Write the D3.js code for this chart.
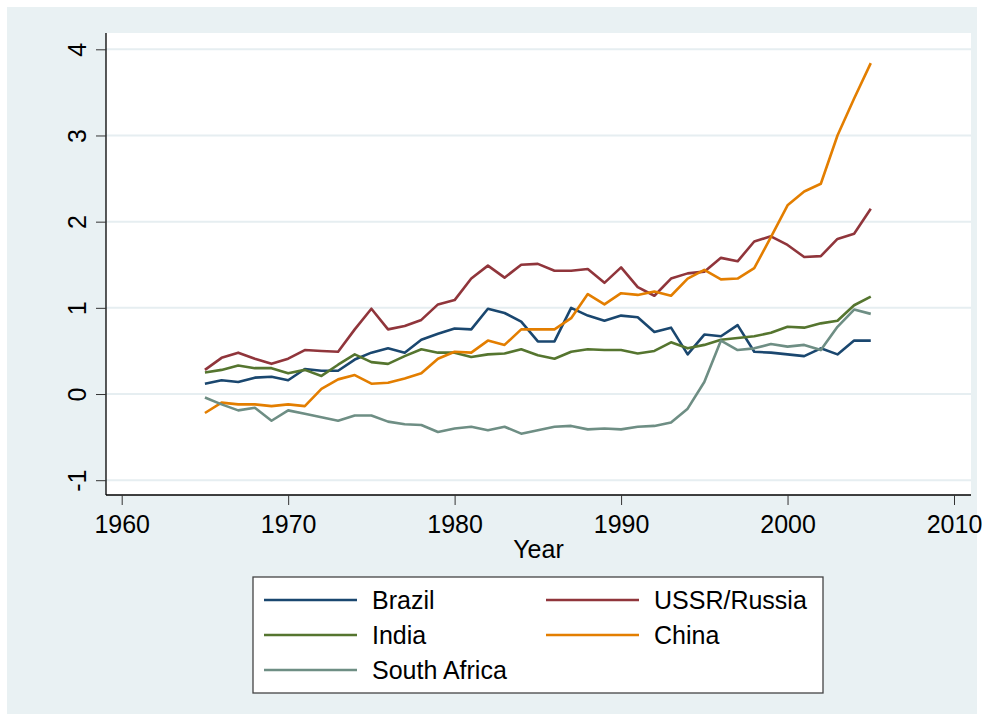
<!DOCTYPE html>
<html>
<head>
<meta charset="utf-8">
<script src="https://cdn.jsdelivr.net/npm/d3@7"></script>
<style>
  body { margin: 0; background: #ffffff; }
  text { font-family: Arial, "Liberation Sans", sans-serif; fill: #000; }
</style>
</head>
<body>
<div id="chart"></div>
<script>

// years on the x axis
var years = d3.range(1965, 2006);

// series values, one per year 1965..2005
var brazil = [0.12, 0.16, 0.14, 0.19, 0.20, 0.16, 0.29, 0.27, 0.27, 0.40,
              0.48, 0.53, 0.48, 0.63, 0.70, 0.76, 0.75, 0.99, 0.94, 0.84,
              0.61, 0.61, 1.00, 0.91, 0.85, 0.91, 0.89, 0.72, 0.77, 0.46,
              0.69, 0.67, 0.80, 0.49, 0.48, 0.46, 0.44, 0.53, 0.46, 0.62,
              0.62];

var russia = [0.28, 0.42, 0.48, 0.41, 0.35, 0.41, 0.51, 0.50, 0.49, 0.75,
              0.99, 0.75, 0.79, 0.86, 1.04, 1.09, 1.34, 1.49, 1.35, 1.50,
              1.51, 1.43, 1.43, 1.45, 1.29, 1.47, 1.24, 1.14, 1.34, 1.40,
              1.42, 1.58, 1.54, 1.77, 1.83, 1.73, 1.59, 1.60, 1.80, 1.86,
              2.15];

var india = [0.25, 0.28, 0.33, 0.30, 0.30, 0.24, 0.28, 0.21, 0.34, 0.46,
             0.37, 0.35, 0.44, 0.52, 0.48, 0.48, 0.43, 0.46, 0.47, 0.52,
             0.45, 0.41, 0.49, 0.52, 0.51, 0.51, 0.47, 0.50, 0.60, 0.53,
             0.57, 0.63, 0.65, 0.67, 0.71, 0.78, 0.77, 0.82, 0.85, 1.03,
             1.13];

var china = [-0.22, -0.10, -0.12, -0.12, -0.14, -0.12, -0.14, 0.06, 0.17, 0.22,
             0.12, 0.13, 0.18, 0.24, 0.41, 0.49, 0.48, 0.62, 0.57, 0.75,
             0.75, 0.75, 0.88, 1.16, 1.04, 1.17, 1.15, 1.19, 1.14, 1.34,
             1.44, 1.33, 1.34, 1.46, 1.82, 2.19, 2.35, 2.44, 3.00, 3.43,
             3.84];

var southAfrica = [-0.04, -0.12, -0.19, -0.16, -0.31, -0.19, -0.23, -0.27, -0.31, -0.25,
                   -0.25, -0.32, -0.35, -0.36, -0.44, -0.40, -0.38, -0.42, -0.38, -0.46,
                   -0.42, -0.38, -0.37, -0.41, -0.40, -0.41, -0.38, -0.37, -0.33, -0.17,
                   0.14, 0.62, 0.51, 0.53, 0.58, 0.55, 0.57, 0.51, 0.78, 0.98,
                   0.93];

// tick labels
var xTicks = [1960, 1970, 1980, 1990, 2000, 2010];
var yTicks = [-1, 0, 1, 2, 3, 4];

var series = [
    {name: "Brazil", values: brazil, color: "#1a476f"},
    {name: "USSR/Russia", values: russia, color: "#90353b"},
    {name: "India", values: india, color: "#55752f"},
    {name: "China", values: china, color: "#e37e00"},
    {name: "South Africa", values: southAfrica, color: "#6e8e84"}
];

var fullWidth = 982,
    fullHeight = 721,
    fontSize = "25px";

// plot region box
var plot = {left: 106, right: 971, top: 33, bottom: 495};

var x = d3.scaleLinear()
        .domain([1960, 2010])
        .range([121.7, 954]);

var y = d3.scaleLinear()
        .domain([-1, 4])
        .range([480.2, 49.3]);

var svg = d3.select("#chart").append("svg")
        .attr("width", fullWidth)
        .attr("height", fullHeight);

// outer graph region
svg.append("rect")
        .attr("x", 7)
        .attr("y", 7)
        .attr("width", 970)
        .attr("height", 707)
        .attr("fill", "#e9f1f3");

// inner plot region
svg.append("rect")
        .attr("x", plot.left)
        .attr("y", plot.top)
        .attr("width", plot.right - plot.left)
        .attr("height", plot.bottom - plot.top)
        .attr("fill", "#ffffff");

// horizontal grid lines
svg.append("g")
        .attr("class", "grid")
        .selectAll("line")
        .data(yTicks)
        .enter().append("line")
        .attr("x1", plot.left)
        .attr("x2", plot.right)
        .attr("y1", function(d) { return y(d); })
        .attr("y2", function(d) { return y(d); })
        .attr("stroke", "#e6eef1")
        .attr("stroke-width", 2);

// the lines
var line = d3.line()
        .x(function(d, i) { return x(years[i]); })
        .y(function(d) { return y(d); });

svg.append("g")
        .attr("class", "lines")
        .selectAll("path")
        .data(series)
        .enter().append("path")
        .attr("d", function(s) { return line(s.values); })
        .attr("fill", "none")
        .attr("stroke", function(s) { return s.color; })
        .attr("stroke-width", 2.6)
        .attr("stroke-linejoin", "round");

// y axis, plain hyphen for the minus sign like stata
var yAxis = d3.axisLeft(y)
        .tickValues(yTicks)
        .tickFormat(function(d) { return String(d); })
        .tickSize(10)
        .tickSizeOuter(0)
        .tickPadding(10);

var gy = svg.append("g")
        .attr("class", "y axis")
        .attr("transform", "translate(" + plot.left + ",0)")
        .call(yAxis);

gy.select(".domain")
        .attr("d", "M0," + plot.top + "V" + plot.bottom)
        .attr("stroke", "#000")
        .attr("stroke-width", 1.3);

gy.selectAll(".tick line")
        .attr("stroke", "#333");

gy.selectAll(".tick text")
        .attr("x", 0)
        .attr("dy", 0)
        .attr("text-anchor", "middle")
        .attr("transform", "translate(-20,0) rotate(-90)")
        .style("font-size", fontSize)
        .style("font-family", "Arial, 'Liberation Sans', sans-serif");

// x axis
var xAxis = d3.axisBottom(x)
        .tickValues(xTicks)
        .tickFormat(d3.format("d"))
        .tickSize(10)
        .tickSizeOuter(0)
        .tickPadding(10);

var gx = svg.append("g")
        .attr("class", "x axis")
        .attr("transform", "translate(0," + plot.bottom + ")")
        .call(xAxis);

gx.select(".domain")
        .attr("d", "M" + plot.left + ",0H" + plot.right)
        .attr("stroke", "#000")
        .attr("stroke-width", 1.3);

gx.selectAll(".tick line")
        .attr("stroke", "#333");

gx.selectAll(".tick text")
        .attr("y", 38)
        .attr("dy", 0)
        .style("font-size", fontSize)
        .style("font-family", "Arial, 'Liberation Sans', sans-serif");

svg.append("text")
        .attr("x", (plot.left + plot.right) / 2)
        .attr("y", 558)
        .attr("text-anchor", "middle")
        .style("font-size", fontSize)
        .text("Year");

// legend
var legend = svg.append("g")
        .attr("class", "legend")
        .attr("transform", "translate(253,577)");

legend.append("rect")
        .attr("width", 570)
        .attr("height", 116)
        .attr("fill", "#ffffff")
        .attr("stroke", "#444")
        .attr("stroke-width", 1.3);

var item = legend.selectAll("g.item")
        .data(series)
        .enter().append("g")
        .attr("class", "item")
        .attr("transform", function(s, i) {
            return "translate(" + (i % 2 == 0 ? 11 : 293) + "," + (23 + Math.floor(i / 2) * 35) + ")";
        });

item.append("line")
        .attr("x1", 0)
        .attr("x2", 93)
        .attr("stroke", function(s) { return s.color; })
        .attr("stroke-width", 2.6);

item.append("text")
        .attr("x", 108)
        .attr("y", 9)
        .style("font-size", fontSize)
        .text(function(s) { return s.name; });

</script>
</body>
</html>
